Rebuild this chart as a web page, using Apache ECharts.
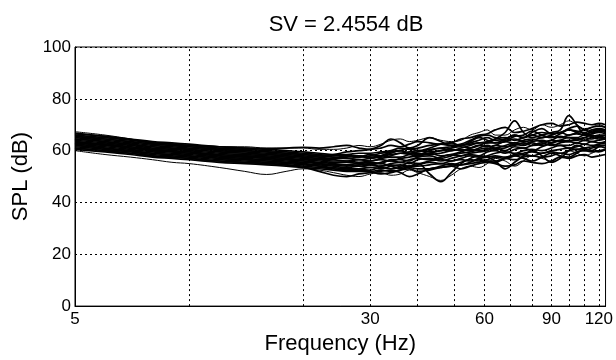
<!DOCTYPE html>
<html>
<head>
<meta charset="utf-8">
<script src="https://cdn.jsdelivr.net/npm/echarts@6.0.0/dist/echarts.min.js"></script>
<style>
    body { margin: 0; background: #fff; }
    #main { width: 616px; height: 360px; }
</style>
</head>
<body>
<div id="main"></div>
<script>
// frequencies (Hz) shared by every measured curve
const freqs = [5, 6, 7, 8, 9, 10, 12, 14, 16, 18, 20, 22, 24, 26, 28, 30, 32, 34, 36, 38, 40, 43, 46, 49, 52, 55, 58, 61, 64, 68, 72, 76, 80, 85, 90, 95, 100, 105, 110, 115, 120, 125]

const xTickLabels = [5, 30, 60, 90, 120]
const xGridFreqs = [10, 20, 30, 40, 50, 60, 70, 80, 90, 100, 110, 120]

// SPL (dB) per curve
const splA = [67.3, 66, 64.5, 63, 62.5, 62, 61.5, 61.5, 61, 61, 61, 60.5, 60.5, 61, 62, 61.5, 62.5, 64, 64.5, 63.5, 64, 65, 64, 63.5, 64, 66, 67, 68, 66, 66, 68, 69, 68, 70, 69, 70, 71.5, 70, 68.5, 69, 70, 69]
const splB = [60, 58.5, 57.5, 56.5, 55.5, 55, 53.5, 52, 50.8, 52, 53, 52.5, 51.5, 50.5, 50, 51, 51.5, 50.5, 51, 52.5, 51.5, 50, 48.5, 50.5, 53, 54, 53.5, 55, 57, 56, 54, 56, 58, 57, 56, 58, 60, 59, 58, 59, 60, 60]
const spl01 = [66.5, 65.5, 64.5, 63.5, 63, 62.5, 61.5, 61, 60.5, 60, 59.5, 59, 58.5, 58.5, 59, 59, 59.5, 60, 61, 60.5, 61, 62, 62.5, 62, 62, 63, 64, 65, 64, 64.5, 66, 65, 66, 67, 66.5, 67, 68, 67.5, 67, 68, 68.5, 68]
const spl02 = [66, 65, 64, 63, 62.5, 62, 61, 60.5, 60, 59.5, 59, 58.5, 58, 58, 57.5, 58, 59, 59.5, 60, 59, 59.5, 60.5, 61, 61.5, 62, 62.5, 63, 63.5, 64.5, 65, 64, 65, 66, 65, 66, 67, 66, 67, 68, 67, 67.5, 67]
const spl03 = [65.5, 64.5, 63.5, 62.5, 62, 61.5, 60.5, 60, 59.5, 59, 58.5, 58, 57.5, 57, 57.5, 58.5, 58, 58.5, 59, 59.5, 60, 59.5, 60, 61, 61.5, 61, 62, 63, 63, 63.5, 64.5, 63.5, 64, 65, 65.5, 65, 66, 66.5, 66, 66.5, 67, 66.5]
const spl04 = [65, 64, 63, 62, 61.5, 61, 60, 59.5, 59, 58.5, 58, 57.5, 57, 57, 56.5, 57, 57.5, 58, 59, 58.5, 58, 59, 60, 60.5, 60, 61, 62, 61.5, 62, 63.5, 63, 64, 64.5, 63.5, 64, 65.5, 65, 65, 66, 65.5, 66, 66]
const spl05 = [64.5, 63.5, 62.5, 61.5, 61, 60.5, 59.5, 59, 58.5, 58, 57.5, 57, 56.5, 56, 56.5, 56, 57, 57.5, 57.5, 58.5, 59, 58.5, 59, 60, 60.5, 60, 61, 62, 61, 62, 63, 62.5, 63.5, 64, 63, 64, 65, 64.5, 65, 64.5, 65.5, 65]
const spl06 = [64, 63, 62, 61, 60.5, 60, 59, 58.5, 58, 57.5, 57, 56.5, 56, 56, 55.5, 56, 56.5, 56, 57, 57.5, 58, 59, 58, 58.5, 59.5, 60.5, 60, 60.5, 62, 61.5, 62, 63, 62, 62.5, 64, 63.5, 64, 64, 65, 66, 65, 65]
const spl07 = [63.5, 62.5, 61.5, 60.5, 60, 59.5, 58.5, 58, 57.5, 57, 56.5, 56, 55.5, 55.5, 55, 55.5, 55, 56.5, 56.5, 56, 57.5, 58, 57, 58, 59, 59.5, 60.5, 61, 60.5, 61, 62.5, 62, 63, 62, 63, 64, 63.5, 64.5, 64, 65, 64.5, 65]
const spl08 = [63, 62, 61, 60, 59.5, 59, 58, 57.5, 57, 56.5, 56, 55.5, 55, 54.5, 55, 54.5, 55.5, 56, 55.5, 56.5, 57, 56.5, 57.5, 58.5, 58, 59, 59.5, 60, 61, 60, 61.5, 61, 62, 63, 62, 63, 63.5, 63, 64, 63.5, 64, 64.5]
const spl09 = [62.5, 61.5, 60.5, 59.5, 59, 58.5, 57.5, 57, 56.5, 56, 55.5, 55, 54.5, 54.5, 54, 54.5, 54, 55, 55.5, 55, 56.5, 57, 56, 57, 58, 58.5, 58, 59.5, 60, 59, 60.5, 61, 60, 61.5, 62.5, 62, 62, 63, 62.5, 63.5, 63, 63.5]
const spl10 = [62, 61, 60, 59, 58.5, 58, 57, 56.5, 56, 55.5, 55, 54.5, 54, 53.5, 54, 53.5, 54, 54.5, 54, 55.5, 55, 56, 56.5, 56, 57, 58, 57.5, 58, 59, 59.5, 59, 60, 60.5, 60, 61, 62, 61, 61.5, 62.5, 62, 62.5, 63]
const spl11 = [61.5, 60.5, 59.5, 58.5, 58, 57.5, 56.5, 56, 55.5, 55, 54.5, 54, 53.5, 53, 53, 53.5, 53, 54, 54.5, 54, 54.5, 55.5, 55, 56, 56.5, 56, 57, 57.5, 58, 57.5, 58.5, 59, 59.5, 59, 60, 60.5, 61, 60.5, 61, 61.5, 62, 62]
const spl12 = [61, 60, 59, 58, 57.5, 57, 56, 55.5, 55, 54.5, 54, 53.5, 53, 52.5, 52.5, 52.5, 53.5, 53, 53.5, 54, 54, 54.5, 55, 54.5, 55.5, 56.5, 56, 56.5, 57.5, 57, 58, 58.5, 58, 59, 59.5, 59, 60, 60.5, 60, 61, 61.5, 61]
const spl13 = [60.5, 59.5, 58.5, 57.5, 57, 56.5, 55.5, 55, 54.5, 54, 53.5, 53, 52.5, 52, 52, 52, 52.5, 52, 52.5, 53.5, 53, 53, 54, 55, 54.5, 55, 55.5, 56, 56, 57, 56.5, 57.5, 58, 57.5, 58, 59, 58.5, 59.5, 60, 59.5, 60, 60.5]
const spl14 = [64.5, 63.5, 62.5, 61.5, 61, 60.5, 59.5, 59, 58.5, 58, 57.5, 57, 57, 57.5, 58, 57.5, 58, 59, 60, 59, 58.5, 60, 61, 60, 61, 62, 63, 63, 64.5, 67, 71.5, 67, 65, 66, 67, 68, 73.5, 70, 66.5, 67, 68, 67.5]
const spl15 = [63, 62, 61, 60, 59.5, 59, 58, 57.5, 57, 56.5, 56, 55, 54.5, 54, 54.5, 55, 55, 54, 53, 54, 55, 51, 48, 51.5, 55, 57, 58, 57.5, 56, 53, 55.5, 58, 60, 58, 55.5, 57, 60, 62, 61, 60, 61.5, 62]
const spl16 = [65.5, 64.5, 63.5, 62.5, 62, 61.5, 60.5, 60, 59.5, 59, 58.5, 58, 58.5, 59.5, 60, 60.5, 62, 64.5, 63, 61, 62, 65, 63.5, 62, 62.5, 64, 65.5, 66, 65, 64, 65.5, 66, 67.5, 66, 65, 66.5, 68, 67, 66, 67.5, 68, 67.5]
const spl17 = [61, 60, 59, 58, 57.5, 57, 56, 55.5, 55, 54.5, 53.5, 52, 50.5, 50, 51, 51.5, 52, 52.5, 51.5, 50, 51, 53, 53.5, 54, 54.5, 55.5, 56.5, 56, 55.5, 57, 58, 57, 56, 57.5, 59, 58, 57.5, 59, 60.5, 60, 59.5, 60.5]
const spl18 = [63.5, 62.5, 61.5, 60.5, 60, 59.5, 58.5, 58, 57.5, 57, 56.5, 56.5, 57, 58, 58, 57, 58, 59.5, 60, 61, 60, 61, 62.5, 63, 62, 63.5, 65, 64, 63, 64.5, 66, 65, 67, 68.5, 66.5, 67, 68.5, 69.5, 68, 69, 69.5, 69]
const spl19 = [62, 61, 60, 59, 58.5, 58, 57, 56.5, 56, 55.5, 55, 54, 53, 52.5, 53, 52, 51, 51.5, 52.5, 53, 52, 52.5, 53.5, 54, 53, 54, 55, 55.5, 55, 54, 54.5, 56, 55.5, 55, 56, 57.5, 57, 58, 58.5, 57.5, 58, 58.5]
const spl20 = [66.8, 65.5, 64.3, 63, 62.5, 62, 61.5, 61, 60.8, 61, 61.3, 61, 61.5, 62, 61, 60.5, 61, 62, 61.5, 62.5, 63.5, 63, 62.5, 63, 64.5, 65, 66, 66.5, 68, 69, 67, 67.5, 68.5, 70, 70.5, 69.5, 70, 71, 70.5, 70, 70.5, 70]

const curves = [splA, splB, spl01, spl02, spl03, spl04, spl05, spl06, spl07, spl08, spl09, spl10,
    spl11, spl12, spl13, spl14, spl15, spl16, spl17, spl18, spl19, spl20]

const font = 'Liberation Sans, Arial, sans-serif'

var series = curves.map(function (c, k) {
    // the two outer curves stay thin, the core band is drawn a bit heavier so it reads as solid
    var w = k < 2 ? 1 : 1.7
    return {
        type: 'line',
        data: freqs.map(function (f, i) { return [f, c[i]] }),
        showSymbol: false,
        smooth: 0.4,
        silent: true,
        z: 3,
        lineStyle: { color: '#000', width: w }
    }
})

// dotted vertical grid at 10, 20, ... 120 Hz
series.push({
    type: 'line',
    data: [],
    silent: true,
    z: 1,
    markLine: {
        silent: true,
        symbol: ['none', 'none'],
        label: { show: false },
        lineStyle: { color: '#000', type: [2, 3], width: 1 },
        emphasis: { disabled: true },
        data: xGridFreqs.map(function (f) { return { xAxis: f } })
    }
})

var myChart = echarts.init(document.getElementById('main'))

myChart.setOption({
    animation: false,
    backgroundColor: '#fff',
    title: {
        text: 'SV = 2.4554 dB',
        left: 341,
        textAlign: 'center',
        top: 9,
        textStyle: { fontFamily: font, fontSize: 22, fontWeight: 'normal', color: '#000' }
    },
    grid: {
        left: 75,
        right: 9,
        top: 47,
        bottom: 47,
        show: true,
        borderColor: '#000',
        borderWidth: 1
    },
    xAxis: {
        type: 'log',
        logBase: 10,
        min: 5,
        max: 125,
        name: 'Frequency (Hz)',
        nameLocation: 'middle',
        nameGap: 22,
        nameTextStyle: { fontFamily: font, fontSize: 22, color: '#000' },
        axisLine: { lineStyle: { color: '#000', width: 1 } },
        axisTick: { show: false },
        minorTick: { show: false },
        splitLine: { show: false },
        axisLabel: {
            customValues: xTickLabels,
            margin: 5,
            fontFamily: font,
            fontSize: 17,
            color: '#000',
            formatter: function (v) { return String(Math.round(v)) }
        }
    },
    yAxis: {
        type: 'value',
        min: 0,
        max: 100,
        interval: 20,
        name: 'SPL (dB)',
        nameLocation: 'middle',
        nameGap: 43,
        nameTextStyle: { fontFamily: font, fontSize: 22, color: '#000' },
        axisLine: { show: true, lineStyle: { color: '#000', width: 1 } },
        axisTick: { show: false },
        splitLine: { lineStyle: { color: '#000', type: [2, 3], width: 1 } },
        axisLabel: { margin: 4, fontFamily: font, fontSize: 17, color: '#000' }
    },
    series: series
})
</script>
</body>
</html>
